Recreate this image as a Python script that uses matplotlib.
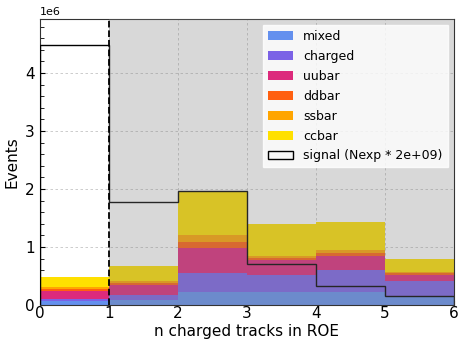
import matplotlib
matplotlib.use("Agg")
import matplotlib.pyplot as plt
import numpy as np
from matplotlib.ticker import AutoMinorLocator

bin_edges = [0, 1, 2, 3, 4, 5, 6]
bin_centers = [0.5, 1.5, 2.5, 3.5, 4.5, 5.5]

series_names = ["mixed", "charged", "uubar", "ddbar", "ssbar", "ccbar"]
mixed = [0.07e6, 0.09e6, 0.23e6, 0.22e6, 0.22e6, 0.14e6]
charged = [0.04e6, 0.09e6, 0.33e6, 0.30e6, 0.39e6, 0.27e6]
uubar = [0.13e6, 0.17e6, 0.42e6, 0.26e6, 0.23e6, 0.11e6]
ddbar = [0.04e6, 0.03e6, 0.11e6, 0.03e6, 0.06e6, 0.03e6]
ssbar = [0.03e6, 0.03e6, 0.12e6, 0.03e6, 0.05e6, 0.02e6]
ccbar = [0.17e6, 0.26e6, 0.74e6, 0.55e6, 0.49e6, 0.22e6]
signal = [4.48e6, 1.77e6, 1.96e6, 0.71e6, 0.33e6, 0.15e6]

colors = ["#6490EE", "#7B62E6", "#DC2A7C", "#FF6010", "#FFA500", "#FFE000"]

fig = plt.figure(figsize=(4.58, 3.39), dpi=100)
ax = fig.add_axes([0.087, 0.10, 0.904, 0.844])

ax.hist([bin_centers] * 6, bins=bin_edges,
        weights=[mixed, charged, uubar, ddbar, ssbar, ccbar],
        stacked=True, histtype="stepfilled", color=colors,
        label=series_names, zorder=2)
ax.hist(bin_centers, bins=bin_edges, weights=signal, histtype="step",
        color="black", linewidth=1.0, label="signal (Nexp * 2e+09)", zorder=3)

ax.axvspan(1, 6, color="grey", alpha=0.3, zorder=4, linewidth=0)
ax.axvline(1, color="black", linestyle="--", linewidth=1.3, zorder=5)

ax.set_xlim(0, 6)
ax.set_ylim(0, 4.93e6)
ax.set_xlabel("n charged tracks in ROE", fontsize=11, labelpad=2)
ax.set_ylabel("Events", fontsize=11)
ax.tick_params(axis="both", which="both", direction="in", labelsize=11)
ax.tick_params(axis="x", pad=1)
ax.tick_params(axis="y", which="minor", length=3)
ax.yaxis.set_minor_locator(AutoMinorLocator(5))
ax.grid(True, which="major", linestyle=(0, (3, 3)), color="#c4c4c4", linewidth=0.6, zorder=1)
ax.set_axisbelow(True)
ax.yaxis.get_offset_text().set_fontsize(8)

for s in ax.spines.values():
    s.set_color("#333333")

handles, labels = ax.get_legend_handles_labels()
order = [labels.index(n) for n in series_names] + [labels.index("signal (Nexp * 2e+09)")]
leg = ax.legend([handles[i] for i in order], [labels[i] for i in order],
                loc="upper right", fontsize=9, framealpha=0.8,
                edgecolor="white", fancybox=False, labelspacing=0.55)
leg.set_zorder(10)

fig.savefig("out.png", dpi=100)
